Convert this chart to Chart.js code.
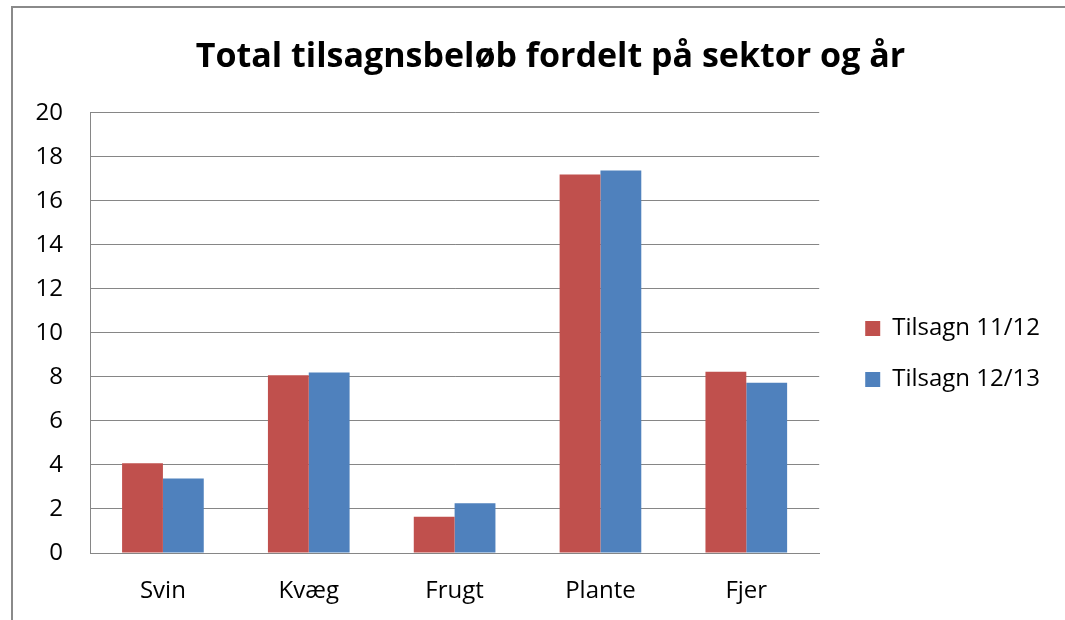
<!DOCTYPE html>
<html>
<head>
<meta charset="utf-8">
<script src="https://cdn.jsdelivr.net/npm/chart.js@4.4.0/dist/chart.umd.min.js"></script>
<style>
  body { margin: 0; background: #fff; }
  #wrap { position: relative; width: 1065px; height: 620px; }
  #frame {
    position: absolute; left: 11px; top: 6px; width: 1060px; height: 620px;
    border-left: 2px solid #8a8a8a; border-top: 2px solid #8a8a8a;
  }
  canvas { position: absolute; left: 0; top: 0; }
</style>
</head>
<body>
<div id="wrap">
  <div id="frame"></div>
  <canvas id="chart" width="1065" height="620"></canvas>
</div>
<script>
// sectors and values
const sectors = ["Svin", "Kvæg", "Frugt", "Plante", "Fjer"];
const tilsagn1112 = [4.08, 8.08, 1.65, 17.2, 8.24];
const tilsagn1213 = [3.39, 8.2, 2.26, 17.38, 7.74];
const yTicks = [0, 2, 4, 6, 8, 10, 12, 14, 16, 18, 20];

const fontFam = "'Open Sans', 'Liberation Sans', sans-serif";

// nudge legend and title so they sit like the Excel ones
const boxShift = {
    id: "boxShift",
    afterLayout(chart) {
        const lg = chart.legend;
        lg.left += 19; lg.right += 19;
        lg.top += 44; lg.bottom += 44;
        const tb = chart.titleBlock;
        tb.left += 35; tb.right += 35;
    }
};

new Chart(document.getElementById("chart"), {
    type: "bar",
    data: {
        labels: sectors,
        datasets: [
            {
                label: "Tilsagn 11/12",
                data: tilsagn1112,
                backgroundColor: "#C0504D",
                borderWidth: 0
            },
            {
                label: "Tilsagn 12/13",
                data: tilsagn1213,
                backgroundColor: "#4F81BD",
                borderWidth: 0
            }
        ]
    },
    options: {
        responsive: false,
        animation: false,
        layout: { padding: { left: 0, right: 34, top: 0, bottom: 0 } },
        datasets: {
            bar: { barPercentage: 1, categoryPercentage: 0.56 }
        },
        plugins: {
            title: {
                display: true,
                text: "Total tilsagnsbeløb fordelt på sektor og år",
                color: "#000",
                font: { family: fontFam, size: 34, weight: "bold" },
                padding: { top: 37, bottom: 35 }
            },
            legend: {
                position: "right",
                labels: {
                    color: "#000",
                    font: { family: fontFam, size: 24 },
                    boxWidth: 15,
                    boxHeight: 15,
                    padding: 27
                }
            },
            tooltip: { enabled: false }
        },
        scales: {
            x: {
                grid: { display: false, drawTicks: false },
                border: { display: true, color: "#868686", width: 1 },
                ticks: { color: "#000", font: { family: fontFam, size: 24 }, padding: 24 },
                afterFit: (s) => { s.height = 67; }
            },
            y: {
                min: 0,
                max: 20,
                afterBuildTicks: (axis) => { axis.ticks = yTicks.map(v => ({ value: v })); },
                grid: { color: "#868686", drawTicks: false },
                border: { display: true, color: "#868686", width: 1 },
                ticks: { color: "#000", font: { family: fontFam, size: 24 }, padding: 27 },
                afterFit: (s) => { s.width = 90; }
            }
        }
    },
    plugins: [boxShift]
});
</script>
</body>
</html>
